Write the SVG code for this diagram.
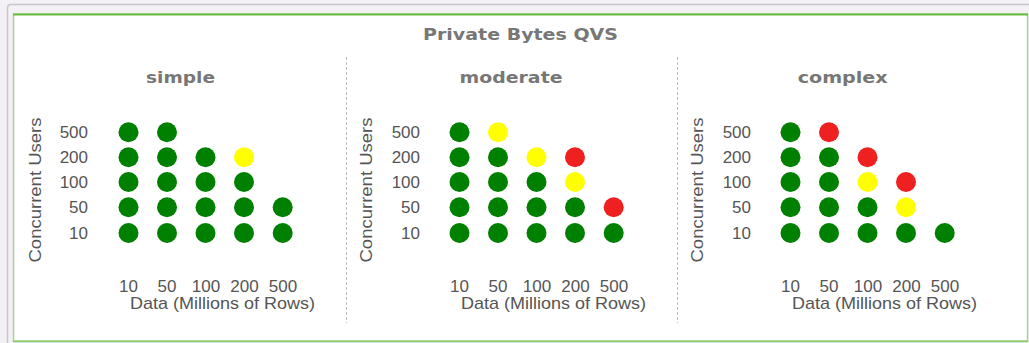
<svg xmlns="http://www.w3.org/2000/svg" width="1029" height="343" viewBox="0 0 1029 343">
<defs>
<style>
.title{font-family:"DejaVu Sans","Liberation Sans",sans-serif;font-weight:bold;fill:#777;font-size:15.5px;text-anchor:middle}
.tick{font-family:"Liberation Sans",Arial,sans-serif;font-size:17px;fill:#555}
.yt{text-anchor:end}
.xt{text-anchor:middle}
.g{fill:#008000}
.y{fill:#ffff00}
.r{fill:#ee2020}
.sep{stroke:#bbb;stroke-width:1;stroke-dasharray:3 2}
</style>
</defs>
<rect x="0" y="0" width="1029" height="343" fill="#f3f1f5"/>
<path d="M7.5 343 V8 Q7.5 4.5 11 4.5 H1029" fill="none" stroke="#c9c7cb" stroke-width="1.5"/>
<rect x="13.5" y="14" width="1014" height="327" fill="#ffffff" stroke="#a6d68c" stroke-width="1.5"/>
<line x1="13" y1="14.5" x2="1028" y2="14.5" stroke="#6cbb44" stroke-width="2"/>
<line x1="13" y1="341.5" x2="1028" y2="341.5" stroke="#8cc870" stroke-width="1.5"/>
<text class="title" x="520.5" y="40" textLength="195" lengthAdjust="spacingAndGlyphs">Private Bytes QVS</text>
<g id="separators">
<line class="sep" x1="346.5" y1="57" x2="346.5" y2="323"/>
<line class="sep" x1="677.5" y1="57" x2="677.5" y2="323"/>
</g>
<g id="panel-simple">
<text class="title" x="180.5" y="83" textLength="69" lengthAdjust="spacingAndGlyphs">simple</text>
<text class="tick xt" x="41" y="190" transform="rotate(-90 41 190)" textLength="145" lengthAdjust="spacingAndGlyphs">Concurrent Users</text>
<text class="tick yt" x="88" y="138">500</text>
<text class="tick yt" x="88" y="163">200</text>
<text class="tick yt" x="88" y="188">100</text>
<text class="tick yt" x="88" y="213">50</text>
<text class="tick yt" x="88" y="238.5">10</text>
<text class="tick xt" x="128.5" y="292">10</text>
<text class="tick xt" x="167" y="292">50</text>
<text class="tick xt" x="206" y="292">100</text>
<text class="tick xt" x="244.5" y="292">200</text>
<text class="tick xt" x="283" y="292">500</text>
<text class="tick" x="130" y="309" textLength="185" lengthAdjust="spacingAndGlyphs">Data (Millions of Rows)</text>
<circle class="g" cx="128.5" cy="132.3" r="10"/><circle class="g" cx="167" cy="132.3" r="10"/>
<circle class="g" cx="128.5" cy="157.3" r="10"/><circle class="g" cx="167" cy="157.3" r="10"/><circle class="g" cx="205.5" cy="157.3" r="10"/><circle class="y" cx="244" cy="157.3" r="10"/>
<circle class="g" cx="128.5" cy="182" r="10"/><circle class="g" cx="167" cy="182" r="10"/><circle class="g" cx="205.5" cy="182" r="10"/><circle class="g" cx="244" cy="182" r="10"/>
<circle class="g" cx="128.5" cy="207.3" r="10"/><circle class="g" cx="167" cy="207.3" r="10"/><circle class="g" cx="205.5" cy="207.3" r="10"/><circle class="g" cx="244" cy="207.3" r="10"/><circle class="g" cx="282.7" cy="207.3" r="10"/>
<circle class="g" cx="128.5" cy="233" r="10"/><circle class="g" cx="167" cy="233" r="10"/><circle class="g" cx="205.5" cy="233" r="10"/><circle class="g" cx="244" cy="233" r="10"/><circle class="g" cx="282.7" cy="233" r="10"/>
</g>
<g id="panel-moderate" transform="translate(331,0)">
<text class="title" x="180" y="83" textLength="103" lengthAdjust="spacingAndGlyphs">moderate</text>
<text class="tick xt" x="41" y="190" transform="rotate(-90 41 190)" textLength="145" lengthAdjust="spacingAndGlyphs">Concurrent Users</text>
<text class="tick yt" x="89" y="138">500</text>
<text class="tick yt" x="89" y="163">200</text>
<text class="tick yt" x="89" y="188">100</text>
<text class="tick yt" x="89" y="213">50</text>
<text class="tick yt" x="89" y="238.5">10</text>
<text class="tick xt" x="128.5" y="292">10</text>
<text class="tick xt" x="167" y="292">50</text>
<text class="tick xt" x="206" y="292">100</text>
<text class="tick xt" x="244.5" y="292">200</text>
<text class="tick xt" x="283" y="292">500</text>
<text class="tick" x="130" y="309" textLength="185" lengthAdjust="spacingAndGlyphs">Data (Millions of Rows)</text>
<circle class="g" cx="128.5" cy="132.3" r="10"/><circle class="y" cx="167" cy="132.3" r="10"/>
<circle class="g" cx="128.5" cy="157.3" r="10"/><circle class="g" cx="167" cy="157.3" r="10"/><circle class="y" cx="205.5" cy="157.3" r="10"/><circle class="r" cx="244" cy="157.3" r="10"/>
<circle class="g" cx="128.5" cy="182" r="10"/><circle class="g" cx="167" cy="182" r="10"/><circle class="g" cx="205.5" cy="182" r="10"/><circle class="y" cx="244" cy="182" r="10"/>
<circle class="g" cx="128.5" cy="207.3" r="10"/><circle class="g" cx="167" cy="207.3" r="10"/><circle class="g" cx="205.5" cy="207.3" r="10"/><circle class="g" cx="244" cy="207.3" r="10"/><circle class="r" cx="282.7" cy="207.3" r="10"/>
<circle class="g" cx="128.5" cy="233" r="10"/><circle class="g" cx="167" cy="233" r="10"/><circle class="g" cx="205.5" cy="233" r="10"/><circle class="g" cx="244" cy="233" r="10"/><circle class="g" cx="282.7" cy="233" r="10"/>
</g>
<g id="panel-complex" transform="translate(662,0)">
<text class="title" x="180.7" y="83" textLength="90" lengthAdjust="spacingAndGlyphs">complex</text>
<text class="tick xt" x="41" y="190" transform="rotate(-90 41 190)" textLength="145" lengthAdjust="spacingAndGlyphs">Concurrent Users</text>
<text class="tick yt" x="89" y="138">500</text>
<text class="tick yt" x="89" y="163">200</text>
<text class="tick yt" x="89" y="188">100</text>
<text class="tick yt" x="89" y="213">50</text>
<text class="tick yt" x="89" y="238.5">10</text>
<text class="tick xt" x="128.5" y="292">10</text>
<text class="tick xt" x="167" y="292">50</text>
<text class="tick xt" x="206" y="292">100</text>
<text class="tick xt" x="244.5" y="292">200</text>
<text class="tick xt" x="283" y="292">500</text>
<text class="tick" x="130" y="309" textLength="185" lengthAdjust="spacingAndGlyphs">Data (Millions of Rows)</text>
<circle class="g" cx="128.5" cy="132.3" r="10"/><circle class="r" cx="167" cy="132.3" r="10"/>
<circle class="g" cx="128.5" cy="157.3" r="10"/><circle class="g" cx="167" cy="157.3" r="10"/><circle class="r" cx="205.5" cy="157.3" r="10"/>
<circle class="g" cx="128.5" cy="182" r="10"/><circle class="g" cx="167" cy="182" r="10"/><circle class="y" cx="205.5" cy="182" r="10"/><circle class="r" cx="244" cy="182" r="10"/>
<circle class="g" cx="128.5" cy="207.3" r="10"/><circle class="g" cx="167" cy="207.3" r="10"/><circle class="g" cx="205.5" cy="207.3" r="10"/><circle class="y" cx="244" cy="207.3" r="10"/>
<circle class="g" cx="128.5" cy="233" r="10"/><circle class="g" cx="167" cy="233" r="10"/><circle class="g" cx="205.5" cy="233" r="10"/><circle class="g" cx="244" cy="233" r="10"/><circle class="g" cx="282.7" cy="233" r="10"/>
</g>
</svg>
